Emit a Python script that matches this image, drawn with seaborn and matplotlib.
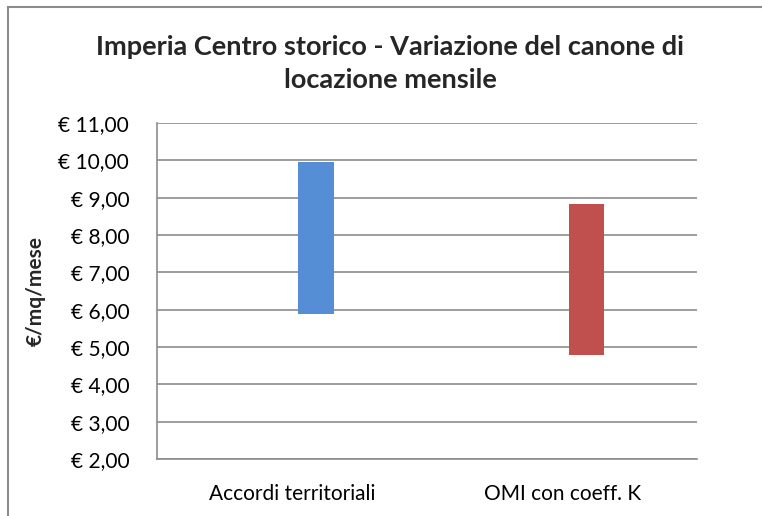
import matplotlib
matplotlib.use("Agg")
import matplotlib.pyplot as plt
import seaborn as sns
import pandas as pd
from matplotlib.ticker import FuncFormatter
from matplotlib.patches import Rectangle

categories = ["Accordi territoriali", "OMI con coeff. K"]
val_min = [5.88, 4.78]
val_max = [9.95, 8.84]
colors = ["#558ED5", "#C0504D"]
yticks = [2, 3, 4, 5, 6, 7, 8, 9, 10, 11]

df = pd.DataFrame({"cat": categories, "lo": val_min, "hi": val_max})
df["span"] = df["hi"] - df["lo"]

sns.set_style("white")
plt.rcParams["font.family"] = ["Lato", "DejaVu Sans"]

fig = plt.figure(figsize=(7.62, 5.16), dpi=100)
ax = fig.add_axes([0.206, 0.1105, 0.709, 0.651])

# floating bars: one call per category so each gets its own bottom
for i, row in df.iterrows():
    sns.barplot(data=df.iloc[[i]], x="cat", y="span", order=categories,
                bottom=row["lo"], color=colors[i], saturation=1,
                width=0.133, linewidth=0, ax=ax)
# bars sit slightly right of the category centre, as in the original
for p in ax.patches:
    p.set_x(p.get_x() + 0.09)

ax.set_ylim(2, 11)
ax.set_xlim(-0.5, 1.5)
ax.set_yticks(yticks)
ax.yaxis.set_major_formatter(FuncFormatter(lambda v, _: f"€ {v:.2f}".replace(".", ",")))
ax.grid(axis="y", color="#8c8c8c", linewidth=1.2)
ax.set_axisbelow(True)
for s in ["top", "right"]:
    ax.spines[s].set_visible(False)
for s in ["left", "bottom"]:
    ax.spines[s].set_color("#8c8c8c")
    ax.spines[s].set_linewidth(1.2)
ax.tick_params(axis="both", length=0, labelsize=15, colors="black")
ax.tick_params(axis="y", pad=20)
ax.tick_params(axis="x", pad=18)
ax.set_xlabel("")
ax.set_ylabel("€/mq/mese", fontsize=15, fontweight="bold", labelpad=9)

fig.text(0.512, 0.876, "Imperia Centro storico - Variazione del canone di\nlocazione mensile",
         ha="center", va="center", fontsize=19.5, fontweight="bold", linespacing=1.45)

fig.patches.append(Rectangle((8 / 762, -0.05), 1.2, 1 - 7 / 516 + 0.05,
                             transform=fig.transFigure, fill=False,
                             edgecolor="#8c8c8c", linewidth=1.5))

fig.savefig("out.png", dpi=100)
